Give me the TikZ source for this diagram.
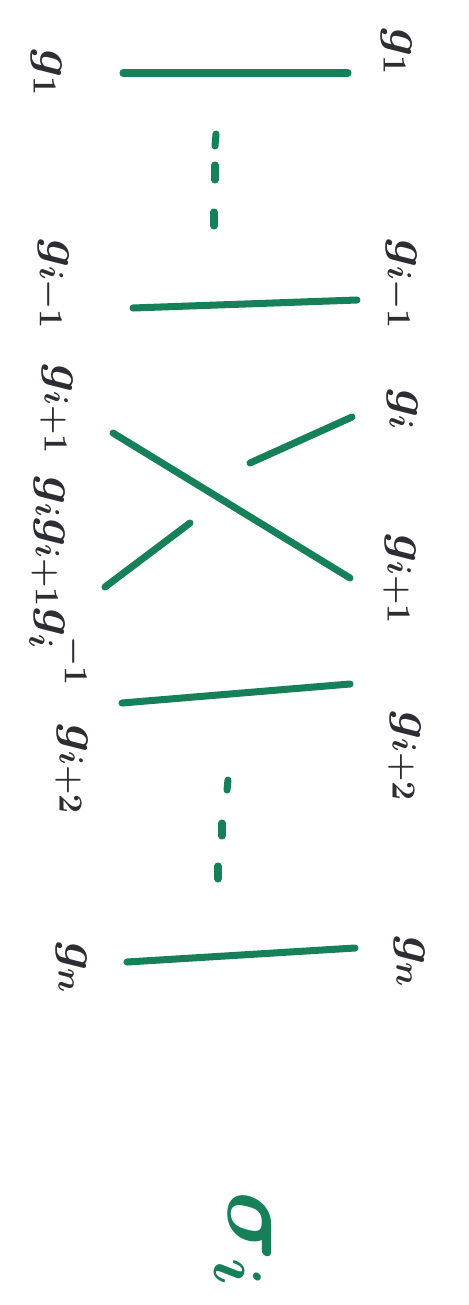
\documentclass[tikz,border=0pt]{standalone}
\usepackage{amsmath}
\usepackage{tikz}
\usepackage{xcolor}
\definecolor{strandgreen}{RGB}{22,128,88}
\definecolor{pencil}{RGB}{45,45,52}

\begin{document}
\begin{tikzpicture}[
    x=0.02cm,
    y=0.02cm,
    gen/.style={
        text=pencil,
        font=\LARGE\boldmath,
        scale=1.6,
        rotate=-90,
        inner sep=0pt
    },
    strand/.style={
        draw=strandgreen,
        line width=4pt,
        line cap=round
    }
]
\useasboundingbox (0,0) rectangle (469,-1305);

% Generators before the move
\node[gen] (a1) at (47,-73) {$g_1$};
\node[gen] (a2) at (52,-285) {$g_{i-1}$};
\node[gen] (a3) at (57,-410) {$g_{i+1}$};
\node[gen] (a4) at (58,-582) {$g_i g_{i+1} g_i^{-1}$};
\node[gen] (a5) at (72,-770) {$g_{i+2}$};
\node[gen] (a6) at (72,-968) {$g_n$};

% Generators after the move
\node[gen] (b1) at (397,-52) {$g_1$};
\node[gen] (b2) at (400,-285) {$g_{i-1}$};
\node[gen] (b3) at (403,-410) {$g_i$};
\node[gen] (b4) at (400,-580) {$g_{i+1}$};
\node[gen] (b5) at (405,-757) {$g_{i+2}$};
\node[gen] (b6) at (410,-962) {$g_n$};

\node[gen, text=strandgreen, scale=2] (sigma) at (243,-1240) {$\sigma_i$};

% Strand ends
\coordinate (s1l) at (123,-73);   \coordinate (s1r) at (348,-73);
\coordinate (s2l) at (133,-308);  \coordinate (s2r) at (357,-300);
\coordinate (ol) at (113,-433);   \coordinate (or) at (350,-578);
\coordinate (ur) at (352,-417);   \coordinate (um) at (250,-463);
\coordinate (un) at (190,-523);   \coordinate (ul) at (105,-587);
\coordinate (s5l) at (122,-703);  \coordinate (s5r) at (350,-684);
\coordinate (s6l) at (127,-962);  \coordinate (s6r) at (355,-948);

% Dots between strands
\foreach \xa/\ya/\xb/\yb [count=\k] in {216/-134/215/-146, 215/-165/215/-180, 214/-212/214/-226,
                                        228/-780/227/-790, 222/-823/222/-836, 218/-866/218/-879}{
    \coordinate (p\k) at (\xa,\ya);
    \coordinate (q\k) at (\xb,\yb);
}

% Strands
\draw[strand] (s1l) -- (s1r);
\draw[strand] (s2l) -- (s2r);

\draw[strand] (ol) -- (or);
\draw[strand] (ur) -- (um);
\draw[strand] (un) -- (ul);

\draw[strand] (s5l) -- (s5r);
\draw[strand] (s6l) -- (s6r);

\foreach \k in {1,...,6}
    \draw[strand] (p\k) -- (q\k);

\end{tikzpicture}
\end{document}
